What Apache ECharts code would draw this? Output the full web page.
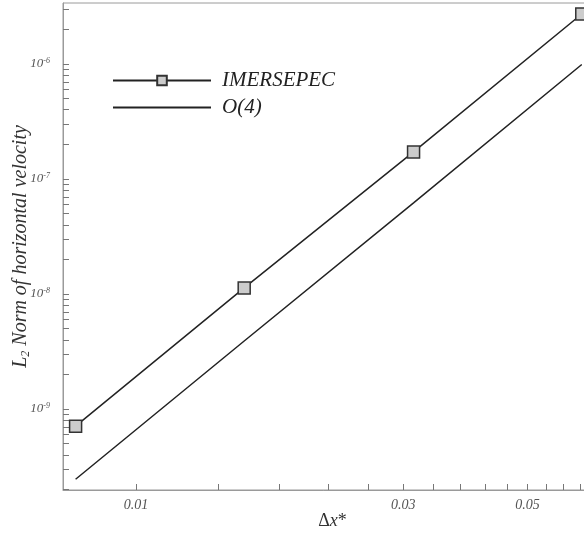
<!DOCTYPE html>
<html lang="en">
<head>
    <meta charset="UTF-8">
    <title>L2 norm convergence</title>
    <script src="https://cdn.jsdelivr.net/npm/echarts@6/dist/echarts.min.js"></script>
    <style>
        html, body { margin: 0; padding: 0; background: #fff; }
        #main { width: 584px; height: 534px; }
    </style>
</head>
<body>
<div id="main"></div>

<script type="text/javascript">
    // grid spacing (x) and error norms (y)
    var dx = [0.0078, 0.0156, 0.0313, 0.0625];
    var imersepec = [7.1e-10, 1.13e-8, 1.72e-7, 2.72e-6];
    var order4 = [2.45e-10, 3.9e-9, 6.2e-8, 9.9e-7];

    // tick labels
    var xLabels = [0.01, 0.03, 0.05];
    var xMinorTicks = [0.01, 0.014, 0.018, 0.022, 0.026, 0.03, 0.034, 0.038, 0.042, 0.046, 0.05, 0.054, 0.058, 0.062, 0.066];
    var yDecades = [-10, -9, -8, -7, -6];

    var log10 = function (v) { return Math.log(v) / Math.LN10; };

    // both axes are logarithmic: plot log10 values on linear axes
    function pairs(xs, ys) {
        var out = [];
        for (var i = 0; i < xs.length; i++) {
            out.push([log10(xs[i]), log10(ys[i])]);
        }
        return out;
    }

    var yTicks = [];
    yDecades.forEach(function (d) {
        for (var k = 1; k <= 9; k++) {
            yTicks.push(log10(k) + d);
        }
    });

    var X_MIN = -2.1304, X_MAX = -1.168;
    var Y_MIN = -9.704, Y_MAX = -5.47;

    var serif = 'Liberation Serif';

    var option = {
        animation: false,
        backgroundColor: '#fff',
        grid: {
            left: 63,
            top: 3,
            bottom: 44,
            right: -18,
            outerBoundsMode: 'none',
            containLabel: false,
            show: true,
            borderColor: '#9a9a9a',
            borderWidth: 1
        },
        legend: {
            orient: 'vertical',
            left: 107,
            top: 65,
            itemWidth: 98,
            itemHeight: 12,
            itemGap: 6,
            data: ['IMERSEPEC', {name: 'O(4)', itemStyle: {opacity: 0}}],
            textStyle: {
                fontFamily: serif,
                fontStyle: 'italic',
                fontSize: 21,
                color: '#222',
                padding: [0, 0, 0, 6]
            }
        },
        xAxis: {
            type: 'value',
            min: X_MIN,
            max: X_MAX,
            name: '{d|Δ}{x|x}{d|*}',
            nameLocation: 'middle',
            nameGap: 22,
            nameMoveOverlap: false,
            nameTextStyle: {
                rich: {
                    d: {fontFamily: serif, fontSize: 18, color: '#333'},
                    x: {fontFamily: serif, fontSize: 18, fontStyle: 'italic', color: '#333'}
                }
            },
            splitLine: {show: false},
            axisLine: {show: true, lineStyle: {color: '#9a9a9a', width: 1}},
            axisTick: {
                show: true,
                inside: true,
                length: 6,
                lineStyle: {color: '#777'},
                customValues: xMinorTicks.map(log10)
            },
            axisLabel: {
                customValues: xLabels.map(log10),
                margin: 8,
                fontFamily: serif,
                fontStyle: 'italic',
                fontSize: 14,
                color: '#555',
                formatter: function (v) {
                    return Math.pow(10, v).toFixed(2);
                }
            }
        },
        yAxis: {
            type: 'value',
            min: Y_MIN,
            max: Y_MAX,
            name: '{i|L}{sub|2}{i| Norm of horizontal velocity}',
            nameLocation: 'middle',
            nameGap: 31,
            nameMoveOverlap: false,
            nameTextStyle: {
                rich: {
                    i: {fontFamily: serif, fontStyle: 'italic', fontSize: 20, color: '#333'},
                    sub: {fontFamily: serif, fontStyle: 'italic', fontSize: 12, color: '#333', padding: [10, 0, 0, 0]}
                }
            },
            splitLine: {show: false},
            axisLine: {show: true, lineStyle: {color: '#9a9a9a', width: 1}},
            axisTick: {
                show: true,
                inside: true,
                length: 6,
                lineStyle: {color: '#777'},
                customValues: yTicks
            },
            axisLabel: {
                customValues: yDecades,
                margin: 13,
                formatter: function (v) {
                    return '{b|10}{s|' + Math.round(v) + '}';
                },
                rich: {
                    b: {fontFamily: serif, fontStyle: 'italic', fontSize: 13, color: '#555'},
                    s: {fontFamily: serif, fontStyle: 'italic', fontSize: 8, color: '#555', padding: [0, 0, 7, 0]}
                }
            }
        },
        series: [{
            name: 'IMERSEPEC',
            type: 'line',
            data: pairs(dx, imersepec),
            symbol: 'rect',
            symbolSize: 12,
            clip: false,
            lineStyle: {color: '#222', width: 1.5},
            itemStyle: {color: '#cccccc', borderColor: '#333', borderWidth: 1.5}
        }, {
            name: 'O(4)',
            type: 'line',
            data: pairs(dx, order4),
            symbol: 'none',
            showSymbol: false,
            lineStyle: {color: '#222', width: 1.5},
            itemStyle: {color: '#222'}
        }]
    };

    var myChart = echarts.init(document.getElementById('main'));
    myChart.setOption(option);
</script>
</body>
</html>
